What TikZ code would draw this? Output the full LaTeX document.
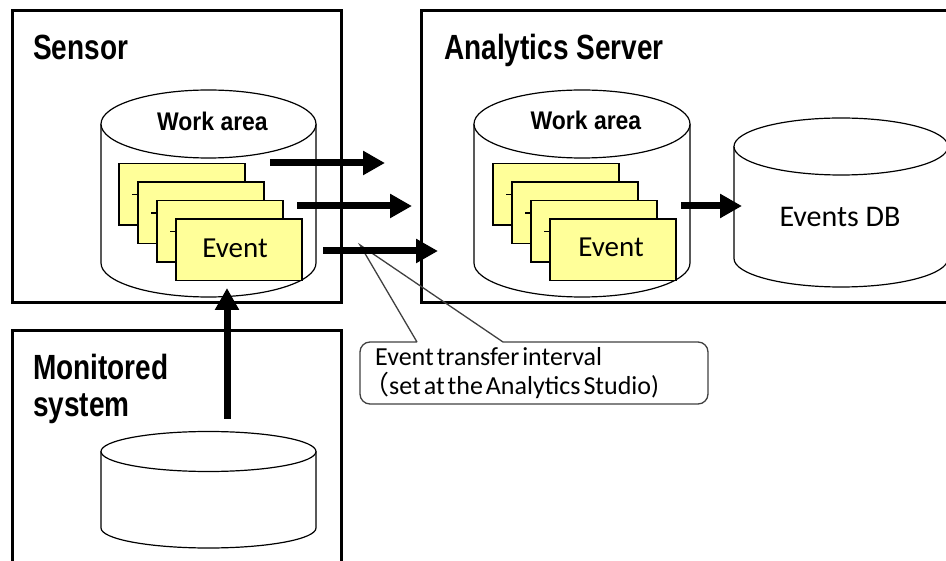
\documentclass[tikz,border=0pt]{standalone}
\usepackage{fontspec}
\setmainfont{Carlito}
\newfontfamily\titlefont{Liberation Sans}[FakeStretch=0.8]
\newfontfamily\areafont{Liberation Sans}[FakeStretch=0.9]
\newfontfamily\notefont{Carlito}[WordSpace=0.5]
\newfontfamily\cjk{Noto Sans CJK JP}
\usepackage{tikz}
\usetikzlibrary{arrows.meta,calc}

\definecolor{cardyellow}{RGB}{255,255,153}

% cylinder: name, centre x, top y, bottom y, x radius, y radius
\newcommand{\drum}[6]{%
  \filldraw[drumline] (#2-#5,#3) -- (#2-#5,#4) arc[start angle=180,end angle=360,x radius=#5pt,y radius=#6pt] -- (#2+#5,#3);
  \draw[drumline] (#2,#3) ellipse[x radius=#5pt,y radius=#6pt];
  \coordinate (#1) at (#2,#4);
}

\begin{document}
\begin{tikzpicture}[x=1pt,y=-1pt,
    box/.style={draw, line width=3pt, inner sep=0pt},
    title/.style={font=\titlefont\bfseries\fontsize{35}{40}\selectfont, anchor=base west, inner sep=0pt},
    area/.style={font=\areafont\bfseries\fontsize{25.5}{30}\selectfont, anchor=base, inner sep=0pt},
    drumline/.style={draw, line width=1.2pt, fill=white},
    card/.style={draw, line width=1.5pt, fill=cardyellow, minimum width=126pt, minimum height=61.5pt, anchor=north west, inner sep=0pt},
    cardtext/.style={font=\fontsize{29}{34}\selectfont, anchor=base, inner sep=0pt},
    tick/.style={line width=1.2pt},
    flow/.style={line width=7pt, -{Triangle[length=22pt,width=23pt]}},
    noteline/.style={draw=black!75, line width=1.3pt},
    note/.style={font=\notefont\fontsize{26}{30}\selectfont, anchor=base west, inner sep=0pt}]

  \useasboundingbox (0,0) rectangle (946,561);
  \clip (0,0) rectangle (946,561);

  % Boxes
  \node[box, minimum width=329pt, minimum height=292pt] (sensor) at (176.5,157) {};
  \node[box, minimum width=539pt, minimum height=292pt] (server) at (690.5,157) {};
  \node[box, minimum width=329pt, minimum height=244pt] (monitored) at (176.5,453) {};

  \node[title] (sensorlabel) at (33,60) {Sensor};
  \node[title] (serverlabel) at (444,60) {Analytics Server};
  \node[title] (monlabel) at (33,380) {Monitored};
  \node[title] (monlabel2) at (33,417) {system};

  % Cylinders
  \drum{swork}{208.5}{124}{263}{107.5}{34}
  \drum{awork}{582}{124}{263}{108}{34}
  \drum{eventsdb}{841}{146.5}{258.5}{107}{28.5}
  \drum{mondb}{208.5}{451.5}{528}{107.5}{20}

  \node[area] (sworklabel) at (212.5,131) {Work area};
  \node[area] (aworklabel) at (586,130) {Work area};
  \node[cardtext, font=\fontsize{30}{34}\selectfont] (dblabel) at (840,227) {Events DB};

  % Event cards
  \foreach \i in {0,...,3}{
    \node[card] (scard\i) at ($(118,163)+\i*(19,18.5)$) {};
    \node[card] (acard\i) at ($(492,163)+\i*(19,18.5)$) {};
  }
  \foreach \i in {1,2,3}{
    \draw[tick] ($(scard\i.north west)+(-5,13)$) -- ++(6,0);
    \draw[tick] ($(acard\i.north west)+(-5,13)$) -- ++(6,0);
  }
  \node[cardtext] (sevent) at (235,258) {Event};
  \node[cardtext] (aevent) at (611,257) {Event};

  % Callout
  \coordinate (tip) at (360,245);
  \draw[noteline] (417,342) -- (tip) -- (503,342) [rounded corners=10pt] -- (708,342) -- (708,404) -- (360,404) -- (360,342) -- (417,342);
  \node[note] (interval) at (375,366) {Event transfer interval};
  \node[note] (studio) at (363,395) {{\cjk （}set at the Analytics Studio)};

  % Arrows
  \coordinate (out1) at (270,163);
  \coordinate (in1) at (385,163);
  \coordinate (out2) at (297,206);
  \coordinate (in2) at (412,206);
  \coordinate (out3) at (323,251);
  \coordinate (in3) at (438,251);
  \coordinate (out4) at (681,206);
  \coordinate (in4) at (742,206);
  \coordinate (monout) at (227,419);
  \coordinate (sensin) at (227,288);
  \draw[flow] (out1) -- (in1);
  \draw[flow] (out2) -- (in2);
  \draw[flow] (out3) -- (in3);
  \draw[flow] (out4) -- (in4);
  \draw[flow] (monout) -- (sensin);

\end{tikzpicture}
\end{document}
